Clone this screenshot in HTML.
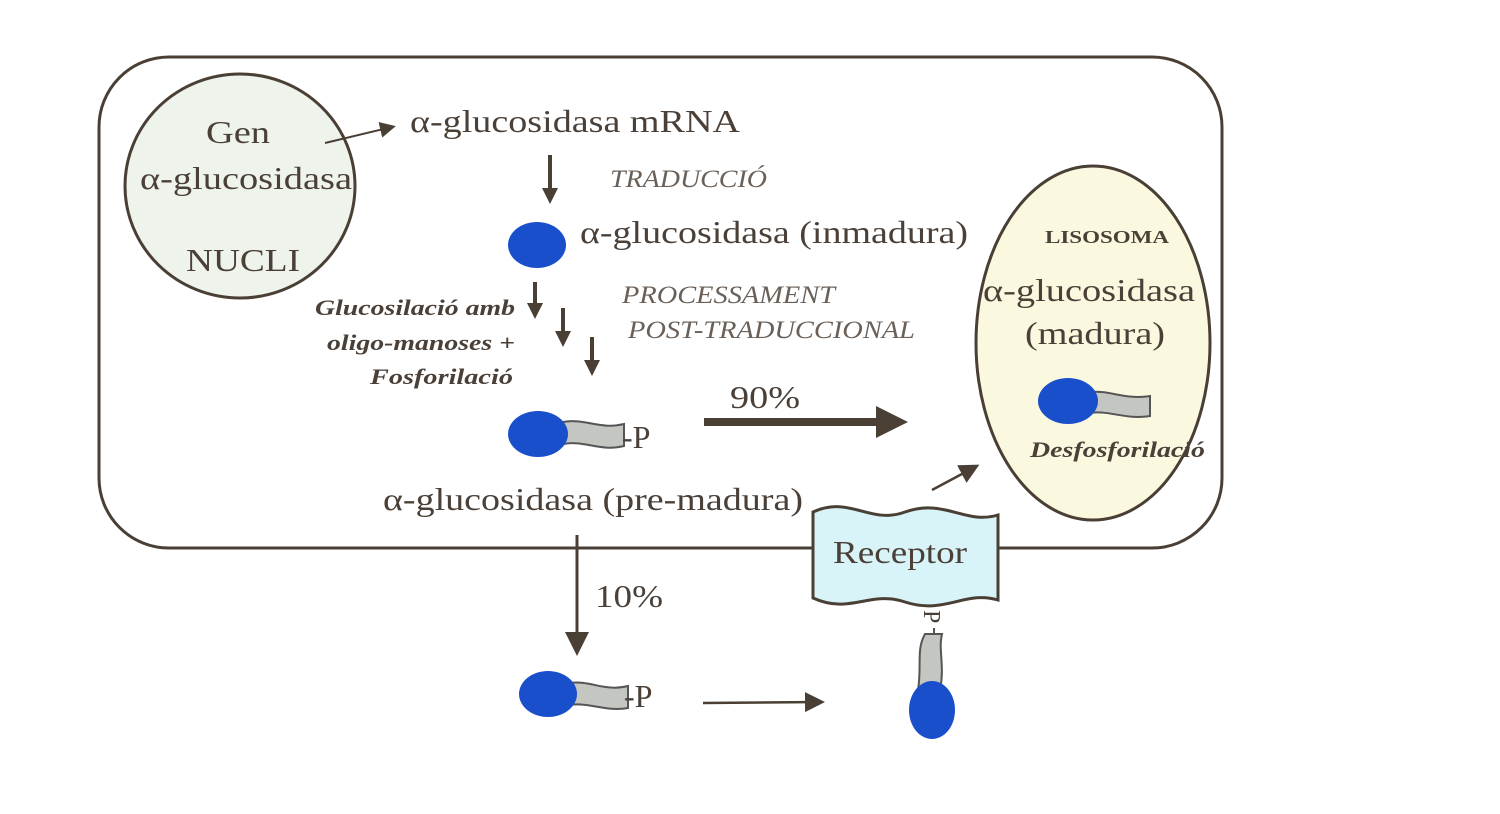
<!DOCTYPE html>
<html><head><meta charset="utf-8"><style>
html,body{margin:0;padding:0;background:#fff}
svg{display:block}
text{font-family:"Liberation Serif",serif;fill:#4a4038}
.it{font-style:italic;font-weight:bold}
.lt{font-style:italic;fill:#6a6058}
</style></head><body>
<svg width="1500" height="814" viewBox="0 0 1500 814">
<defs>
<marker id="ah" markerWidth="8" markerHeight="8" refX="6" refY="4" orient="auto" markerUnits="strokeWidth"><path d="M0,0 L8,4 L0,8 z" fill="#4a3f35"/></marker>
<marker id="ahs" markerWidth="4" markerHeight="4" refX="3" refY="2" orient="auto" markerUnits="strokeWidth"><path d="M0,0 L4,2 L0,4 z" fill="#4a3f35"/></marker>
</defs>
<rect x="99" y="57" width="1123" height="491" rx="70" fill="#fff" stroke="#4a3f35" stroke-width="3"/>
<ellipse cx="240" cy="186" rx="115" ry="112" fill="#eef3ec" stroke="#4a3f35" stroke-width="3"/>
<text x="206" y="143" font-size="32" textLength="64" lengthAdjust="spacingAndGlyphs">Gen</text>
<text x="140" y="189" font-size="32" textLength="212" lengthAdjust="spacingAndGlyphs">α-glucosidasa</text>
<text x="186" y="271" font-size="32" textLength="114" lengthAdjust="spacingAndGlyphs">NUCLI</text>
<line x1="325" y1="143" x2="392" y2="127" stroke="#4a3f35" stroke-width="2" marker-end="url(#ah)"/>
<text x="410" y="132" font-size="32" textLength="330" lengthAdjust="spacingAndGlyphs">α-glucosidasa mRNA</text>
<line x1="550" y1="155" x2="550" y2="200" stroke="#4a3f35" stroke-width="4" marker-end="url(#ahs)"/>
<text x="610" y="187" font-size="25" class="lt" textLength="157" lengthAdjust="spacingAndGlyphs">TRADUCCIÓ</text>
<ellipse cx="537" cy="245" rx="29" ry="23" fill="#1a4fcc"/>
<text x="580" y="243" font-size="32" textLength="388" lengthAdjust="spacingAndGlyphs">α-glucosidasa (inmadura)</text>
<line x1="535" y1="282" x2="535" y2="315" stroke="#4a3f35" stroke-width="4" marker-end="url(#ahs)"/>
<line x1="563" y1="308" x2="563" y2="343" stroke="#4a3f35" stroke-width="4" marker-end="url(#ahs)"/>
<line x1="592" y1="337" x2="592" y2="372" stroke="#4a3f35" stroke-width="4" marker-end="url(#ahs)"/>
<text x="315" y="315" font-size="22" class="it" textLength="200" lengthAdjust="spacingAndGlyphs">Glucosilació amb</text>
<text x="327" y="350" font-size="22" class="it" textLength="188" lengthAdjust="spacingAndGlyphs">oligo-manoses +</text>
<text x="370" y="384" font-size="22" class="it" textLength="143" lengthAdjust="spacingAndGlyphs">Fosforilació</text>
<text x="622" y="303" font-size="25" class="lt" textLength="213" lengthAdjust="spacingAndGlyphs">PROCESSAMENT</text>
<text x="628" y="338" font-size="25" class="lt" textLength="287" lengthAdjust="spacingAndGlyphs">POST-TRADUCCIONAL</text>
<g>
<path d="M563,422 C585,418 600,430 624,424 L624,446 C600,452 585,440 563,444 Z" fill="#c4c6c2" stroke="#555" stroke-width="2"/>
<ellipse cx="538" cy="434" rx="30" ry="23" fill="#1a4fcc"/>
<text x="622" y="448" font-size="32">-P</text>
</g>
<text x="383" y="510" font-size="32" textLength="420" lengthAdjust="spacingAndGlyphs">α-glucosidasa (pre-madura)</text>
<text x="730" y="408" font-size="32" textLength="70" lengthAdjust="spacingAndGlyphs">90%</text>
<line x1="704" y1="422" x2="900" y2="422" stroke="#4a3f35" stroke-width="8" marker-end="url(#ahs)"/>
<ellipse cx="1093" cy="343" rx="117" ry="177" fill="#fbf8e0" stroke="#4a3f35" stroke-width="3"/>
<text x="1045" y="243" font-size="18" font-weight="bold" textLength="124" lengthAdjust="spacingAndGlyphs">LISOSOMA</text>
<text x="983" y="301" font-size="32" textLength="212" lengthAdjust="spacingAndGlyphs">α-glucosidasa</text>
<text x="1025" y="344" font-size="32" textLength="140" lengthAdjust="spacingAndGlyphs">(madura)</text>
<g>
<path d="M1090,392 C1110,390 1125,400 1150,396 L1150,416 C1125,420 1110,410 1090,413 Z" fill="#c4c6c2" stroke="#555" stroke-width="2"/>
<ellipse cx="1068" cy="401" rx="30" ry="23" fill="#1a4fcc"/>
</g>
<text x="1030" y="457" font-size="22" class="it" textLength="175" lengthAdjust="spacingAndGlyphs">Desfosforilació</text>
<line x1="932" y1="490" x2="975" y2="467" stroke="#4a3f35" stroke-width="2.5" marker-end="url(#ah)"/>
<path d="M813,512 C850,495 870,525 905,512 C945,498 965,525 998,515 L998,600 C965,590 945,615 905,602 C870,590 850,615 813,598 Z" fill="#d9f4f8" stroke="#4a3f35" stroke-width="3"/>
<text x="833" y="563" font-size="32" textLength="134" lengthAdjust="spacingAndGlyphs">Receptor</text>
<line x1="577" y1="535" x2="577" y2="650" stroke="#4a3f35" stroke-width="3" marker-end="url(#ah)"/>
<text x="595" y="607" font-size="32" textLength="68" lengthAdjust="spacingAndGlyphs">10%</text>
<g>
<path d="M570,683 C590,680 605,692 628,686 L628,708 C605,712 590,702 570,705 Z" fill="#c4c6c2" stroke="#555" stroke-width="2"/>
<ellipse cx="548" cy="694" rx="29" ry="23" fill="#1a4fcc"/>
<text x="624" y="707" font-size="32">-P</text>
</g>
<line x1="703" y1="703" x2="820" y2="702" stroke="#4a3f35" stroke-width="2.5" marker-end="url(#ah)"/>
<g>
<path d="M925,634 L942,634 C938,650 945,665 940,690 L918,690 C922,665 916,650 925,634 Z" fill="#c4c6c2" stroke="#555" stroke-width="2"/>
<line x1="934" y1="634" x2="934" y2="628" stroke="#555" stroke-width="2"/>
<ellipse cx="932" cy="710" rx="23" ry="29" fill="#1a4fcc"/>
<text x="0" y="0" font-size="24" transform="translate(924,610) rotate(90)">P</text>
</g>
</svg>
</body></html>
